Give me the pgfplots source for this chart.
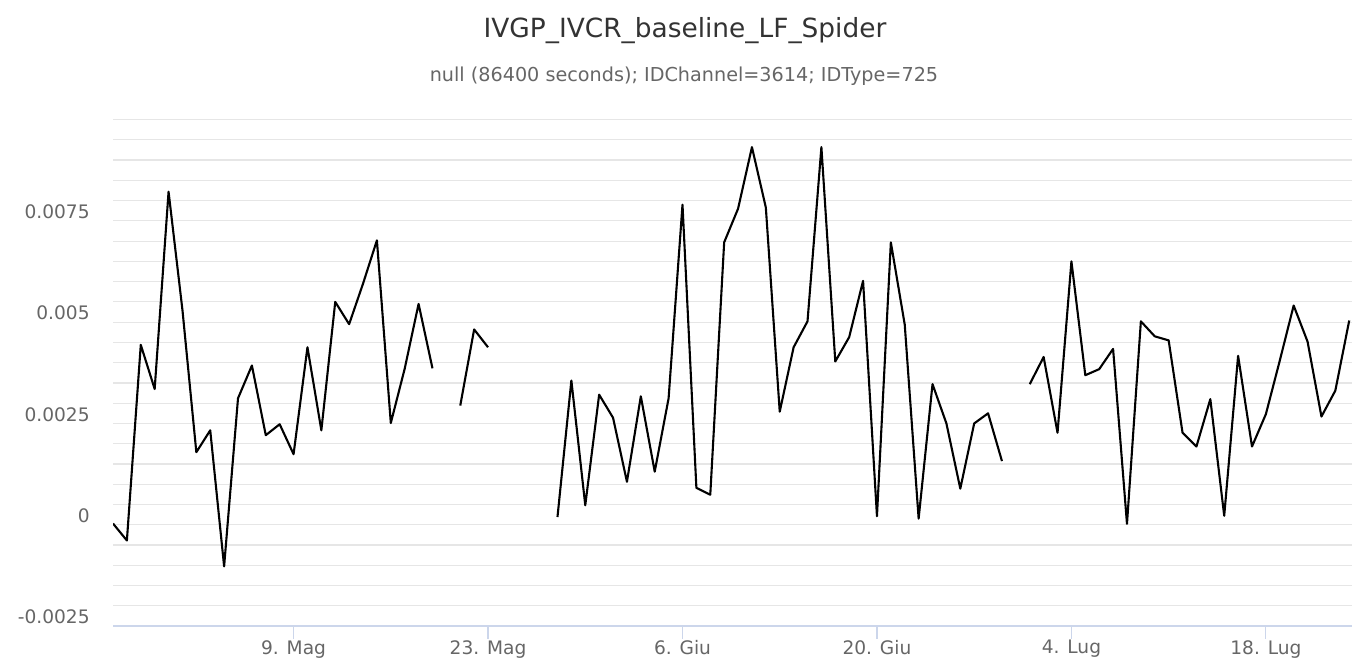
\documentclass[border=0pt]{standalone}
\usepackage{pgfplots}
\pgfplotsset{compat=1.18}
\usepackage{pgfplotstable}
\usepackage{fontspec}
\setmainfont{DejaVu Sans}
\definecolor{gridc}{HTML}{E6E6E6}
\definecolor{axisc}{HTML}{CCD6EB}
\definecolor{labc}{HTML}{666666}
\definecolor{titc}{HTML}{333333}

\pgfplotstableread{
d v
0 0.00003
1 -0.00039
2 0.00444
3 0.00335
4 0.00822
5 0.0053
6 0.00179
7 0.00233
8 -0.00103
9 0.00312
10 0.00393
11 0.00221
12 0.00248
13 0.00174
14 0.00438
15 0.00233
16 0.00550
17 0.00495
18 0.00595
19 0.00702
20 0.00251
21 0.00385
22 0.00545
23 0.00386
24 nan
25 0.00294
26 0.00482
27 0.00438
28 nan
29 nan
30 nan
31 nan
32 0.00019
33 0.00356
34 0.00048
35 0.00321
36 0.00264
37 0.00106
38 0.00317
39 0.00131
40 0.00312
41 0.0079
42 0.00091
43 0.00074
44 0.00697
45 0.0078
46 0.00932
47 0.00783
48 0.00279
49 0.00438
50 0.00502
51 0.00932
52 0.00403
53 0.00463
54 0.00602
55 0.00021
56 0.00697
57 0.00494
58 0.00015
59 0.00347
60 0.0025
61 0.00089
62 0.0025
63 0.00275
64 0.00157
65 nan
66 0.00347
67 0.00414
68 0.00227
69 0.0065
70 0.00369
71 0.00384
72 0.00434
73 0.00002
74 0.00502
75 0.00465
76 0.00455
77 0.00227
78 0.00193
79 0.0031
80 0.00022
81 0.00417
82 0.00193
83 0.00273
84 0.00405
85 0.00541
86 0.00452
87 0.00267
88 0.00331
89 0.00504
}\datatable

\begin{document}
\begin{tikzpicture}
\useasboundingbox (0,0) rectangle (677pt,331pt);
\node[anchor=base, text=titc, font=\fontsize{13.2}{16}\selectfont, inner sep=0pt] at (342.5pt,312pt) {IVGP\_IVCR\_baseline\_LF\_Spider};
\node[anchor=base, text=labc, font=\fontsize{9.6}{11}\selectfont, inner sep=0pt] at (342pt,290pt) {null (86400 seconds); IDChannel=3614; IDType=725};
\begin{axis}[
  at={(56.5pt,18pt)}, anchor=south west,
  scale only axis, width=619.5pt, height=253.2pt,
  xmin=0, xmax=89.2, ymin=-0.0025, ymax=0.01,
  axis x line*=bottom, axis y line*=left,
  separate axis lines,
  x axis line style={draw=axisc, line width=0.6pt},
  y axis line style={draw=none},
  ytick={-0.0025,0,0.0025,0.005,0.0075,0.01},
  yticklabels={-0.0025,0,0.0025,0.005,0.0075,{}},
  minor y tick num=4,
  ymajorgrids, yminorgrids,
  major grid style={draw=gridc, line width=0.6pt},
  minor grid style={draw=gridc, line width=0.6pt},
  ytick style={draw=none},
  minor y tick style={draw=none},
  xtick={13,27,41,55,69,83},
  xticklabels={9. Mag,23. Mag,6. Giu,20. Giu,4. Lug,18. Lug},
  xtick style={draw=axisc, line width=0.6pt},
  tick align=outside,
  major tick length=6.5pt,
  scaled y ticks=false,
  tick label style={text=labc, font=\fontsize{9.3}{11}\selectfont},
  yticklabel style={anchor=east, inner sep=0pt, xshift=-5pt, yshift=4.5pt},
  xticklabel style={anchor=north, inner sep=0pt, yshift=-0.5pt},
  unbounded coords=jump,
]
\addplot[black, line width=1.05pt, line join=round, mark=none] table[x=d,y=v]{\datatable};
\end{axis}
\end{tikzpicture}
\end{document}
